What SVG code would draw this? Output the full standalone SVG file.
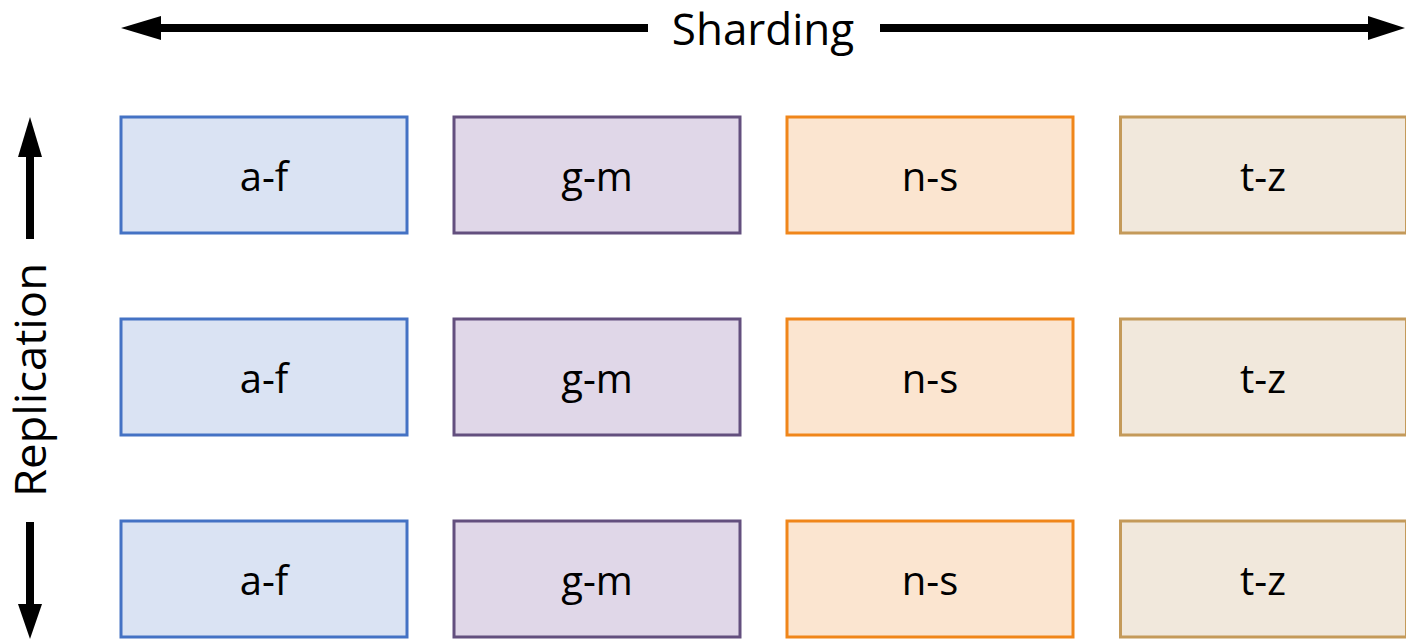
<svg xmlns="http://www.w3.org/2000/svg" width="1406" height="639" viewBox="0 0 1406 639">
  <style>
    .box { stroke-width: 3; }
    .blue { fill: #DAE3F3; stroke: #4472C4; }
    .purple { fill: #E0D7E8; stroke: #634F7E; }
    .orange { fill: #FBE5D0; stroke: #F0861A; }
    .tan { fill: #F1E8DC; stroke: #C49A5A; }
    .lbl { font-family: "Open Sans", "Liberation Sans", sans-serif; font-size: 40px; fill: #000; text-anchor: middle; }
    .axis { font-family: "Open Sans", "Liberation Sans", sans-serif; font-size: 44px; fill: #000; text-anchor: middle; }
    .arrow { stroke: #000; stroke-width: 8; fill: none; }
    .head { fill: #000; }
  </style>

  <!-- axes -->
  <g id="connectors">
    <line class="arrow" x1="158" y1="28" x2="648" y2="28"/>
    <line class="arrow" x1="880" y1="28" x2="1370" y2="28"/>
    <polygon class="head" points="121,28 161,16 161,40"/>
    <polygon class="head" points="1405,28 1368,16 1368,40"/>
    <line class="arrow" x1="30" y1="154" x2="30" y2="239"/>
    <line class="arrow" x1="30" y1="522" x2="30" y2="606"/>
    <polygon class="head" points="30,117 18,157 42,157"/>
    <polygon class="head" points="30,639 18,604 42,604"/>
  </g>
  <text class="axis" x="763" y="45">Sharding</text>
  <text class="axis" transform="translate(46,380) rotate(-90)" textLength="234" lengthAdjust="spacingAndGlyphs">Replication</text>

  <!-- row 1 -->
  <g id="r1-af"><rect class="box blue" x="121" y="117" width="286" height="116"/><text class="lbl" x="264" y="191">a-f</text></g>
  <g id="r1-gm"><rect class="box purple" x="454" y="117" width="286" height="116"/><text class="lbl" x="597" y="191">g-m</text></g>
  <g id="r1-ns"><rect class="box orange" x="787" y="117" width="286" height="116"/><text class="lbl" x="930" y="191">n-s</text></g>
  <g id="r1-tz"><rect class="box tan" x="1120.5" y="117" width="286" height="116"/><text class="lbl" x="1263" y="191">t-z</text></g>

  <!-- row 2 -->
  <g id="r2-af"><rect class="box blue" x="121" y="319" width="286" height="116"/><text class="lbl" x="264" y="393">a-f</text></g>
  <g id="r2-gm"><rect class="box purple" x="454" y="319" width="286" height="116"/><text class="lbl" x="597" y="393">g-m</text></g>
  <g id="r2-ns"><rect class="box orange" x="787" y="319" width="286" height="116"/><text class="lbl" x="930" y="393">n-s</text></g>
  <g id="r2-tz"><rect class="box tan" x="1120.5" y="319" width="286" height="116"/><text class="lbl" x="1263" y="393">t-z</text></g>

  <!-- row 3 -->
  <g id="r3-af"><rect class="box blue" x="121" y="521" width="286" height="116"/><text class="lbl" x="264" y="595">a-f</text></g>
  <g id="r3-gm"><rect class="box purple" x="454" y="521" width="286" height="116"/><text class="lbl" x="597" y="595">g-m</text></g>
  <g id="r3-ns"><rect class="box orange" x="787" y="521" width="286" height="116"/><text class="lbl" x="930" y="595">n-s</text></g>
  <g id="r3-tz"><rect class="box tan" x="1120.5" y="521" width="286" height="116"/><text class="lbl" x="1263" y="595">t-z</text></g>
</svg>
